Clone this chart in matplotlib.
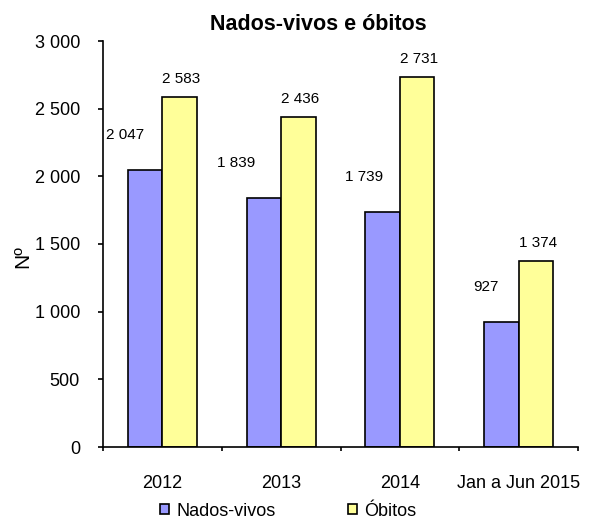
import numpy as np
import matplotlib
matplotlib.use('Agg')
import matplotlib.pyplot as plt

plt.rcParams['font.family'] = ['Liberation Sans', 'DejaVu Sans']

categorias = ['2012', '2013', '2014', 'Jan a Jun 2015']
nados_vivos = [2047, 1839, 1739, 927]
obitos = [2583, 2436, 2731, 1374]

# deslocamento horizontal (pixels) das etiquetas dos nados-vivos
dx_nv = [-20, -28, -19, -15]

def fmt(v):
    return '{:,}'.format(int(v)).replace(',', ' ')

fig = plt.figure(figsize=(5.92, 5.21), dpi=100)
ax = fig.add_axes([103/592, 1-447/521, 475/592, 406/521])

x = np.arange(len(categorias))
w = 0.29
b1 = ax.bar(x - w/2, nados_vivos, w, color='#9999FF', edgecolor='black', linewidth=1.2, label='Nados-vivos')
b2 = ax.bar(x + w/2, obitos, w, color='#FFFF99', edgecolor='black', linewidth=1.2, label='Óbitos')

for i in range(len(x)):
    ax.annotate(fmt(nados_vivos[i]), (x[i] - w/2, nados_vivos[i]), xytext=(dx_nv[i], 35),
                textcoords='offset pixels', ha='center', va='center', fontsize=11)
    ax.annotate(fmt(obitos[i]), (x[i] + w/2, obitos[i]), xytext=(2, 18),
                textcoords='offset pixels', ha='center', va='center', fontsize=11)

ax.set_xlim(-0.5, 3.5)
ax.set_ylim(0, 3000)
ax.set_yticks(range(0, 3001, 500))
ax.set_yticklabels([fmt(v) for v in range(0, 3001, 500)])
ax.set_xticks(x)
ax.set_xticklabels(categorias)
ax.set_xticks(np.arange(-0.5, 3.6, 1), minor=True)
ax.tick_params(axis='x', which='major', length=0, pad=20, labelsize=13)
ax.tick_params(axis='x', which='minor', length=3, width=1.2, direction='out')
ax.tick_params(axis='y', length=3.6, width=1.2, direction='out', pad=13, labelsize=13)

for s in ['top', 'right']:
    ax.spines[s].set_visible(False)
for s in ['left', 'bottom']:
    ax.spines[s].set_linewidth(1.2)

ax.set_ylabel('Nº', fontsize=15)
ax.yaxis.set_label_coords(-0.15, 0.47)

fig.text(318/592, 1-25/521, 'Nados-vivos e óbitos', ha='center', va='center',
         fontsize=15.5, fontweight='bold')

fig.legend(handles=[b1, b2], loc='center', bbox_to_anchor=(288/592, 1-511/521), ncol=2,
           frameon=False, fontsize=13, handlelength=0.5, handleheight=0.5,
           handletextpad=0.4, columnspacing=4)

fig.savefig('out.png', dpi=100)
